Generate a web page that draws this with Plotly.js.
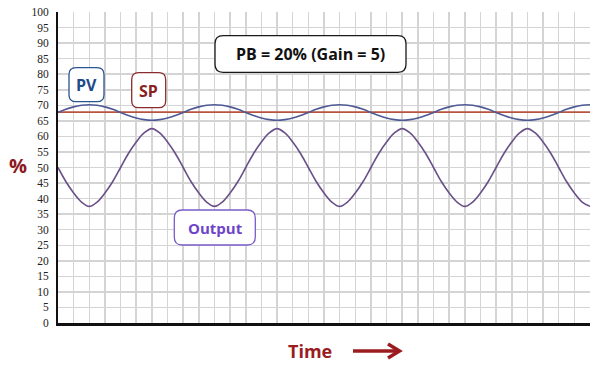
<!DOCTYPE html>
<html>
<head>
<meta charset="utf-8">
<script src="https://cdn.plot.ly/plotly-3.0.1.min.js"></script>
<style>html,body{margin:0;padding:0;background:#fff;}#chart{width:600px;height:372px;}</style>
</head>
<body>
<div id="chart"></div>
<script>
// Data (time in grid columns, values in %)
var time = [0,0.5,1,1.5,2,2.5,3,3.5,4,4.5,5,5.5,6,6.5,7,7.5,
            8,8.5,9,9.5,10,10.5,11,11.5,12,12.5,13,13.5,14,14.5,15,15.5,
            16,16.5,17,17.5,18,18.5,19,19.5,20,20.5,21,21.5,22,22.5,23,23.5,
            24,24.5,25,25.5,26,26.5,27,27.5,28,28.5,29,29.5,30,30.5,31,31.5,
            32,32.5,33,33.5,34];
var outputVals = [50,45.5,41.8,38.9,37.5,38.9,41.8,45.5,50,54.5,58.2,61.1,62.5,61.1,58.2,54.5,
                  50,45.5,41.8,38.9,37.5,38.9,41.8,45.5,50,54.5,58.2,61.1,62.5,61.1,58.2,54.5,
                  50,45.5,41.8,38.9,37.5,38.9,41.8,45.5,50,54.5,58.2,61.1,62.5,61.1,58.2,54.5,
                  50,45.5,41.8,38.9,37.5,38.9,41.8,45.5,50,54.5,58.2,61.1,62.5,61.1,58.2,54.5,
                  50,45.5,41.8,38.9,37.5];
var pvVals = [67.7,68.7,69.5,70,70.2,70,69.5,68.7,67.7,66.7,65.9,65.4,65.2,65.4,65.9,66.7,
              67.7,68.7,69.5,70,70.2,70,69.5,68.7,67.7,66.7,65.9,65.4,65.2,65.4,65.9,66.7,
              67.7,68.7,69.5,70,70.2,70,69.5,68.7,67.7,66.7,65.9,65.4,65.2,65.4,65.9,66.7,
              67.7,68.7,69.5,70,70.2,70,69.5,68.7,67.7,66.7,65.9,65.4,65.2,65.4,65.9,66.7,
              67.7,68.7,69.5,70,70.2];
var spTime = [0, 34];
var spVals = [67.8, 67.8];
var yTicks = [0,5,10,15,20,25,30,35,40,45,50,55,60,65,70,75,80,85,90,95,100];

var L = 58, R = 10, T = 12, B = 49, W = 600, H = 372;
var pw = W - L - R, ph = H - T - B;
function px(x){ return (x - L) / pw; }
function py(y){ return (H - B - y) / ph; }
function rrect(x0, y0, x1, y1, r){
  var a = px(x0), b = px(x1), c = py(y0), d = py(y1);
  var rx = r / pw, ry = r / ph;
  return 'M' + (a+rx) + ',' + c +
         ' L' + (b-rx) + ',' + c + ' Q' + b + ',' + c + ' ' + b + ',' + (c-ry) +
         ' L' + b + ',' + (d+ry) + ' Q' + b + ',' + d + ' ' + (b-rx) + ',' + d +
         ' L' + (a+rx) + ',' + d + ' Q' + a + ',' + d + ' ' + a + ',' + (d+ry) +
         ' L' + a + ',' + (c-ry) + ' Q' + a + ',' + c + ' ' + (a+rx) + ',' + c + ' Z';
}
function box(x0,y0,x1,y1,r,color){
  return {type:'path', xref:'paper', yref:'paper', path: rrect(x0,y0,x1,y1,r),
          line:{color:color, width:1.3}, fillcolor:'#ffffff', layer:'above'};
}
function label(x,y,text,color,size){
  return {xref:'paper', yref:'paper', x:px(x), y:py(y), xanchor:'center', yanchor:'middle',
          text:text, showarrow:false,
          font:{family:'Open Sans, sans-serif', size:size, color:color, weight:700}};
}

var traces = [
  {x: spTime, y: spVals, type:'scatter', mode:'lines', line:{color:'#b8533f', width:1.6}, hoverinfo:'skip'},
  {x: time, y: pvVals, type:'scatter', mode:'lines', line:{color:'#4f5a94', width:1.6, shape:'spline', smoothing:1}, hoverinfo:'skip'},
  {x: time, y: outputVals, type:'scatter', mode:'lines', line:{color:'#6a5088', width:1.6, shape:'spline', smoothing:1}, hoverinfo:'skip'}
];

var arrowColor = '#9a1c1f';
var layout = {
  width: W, height: H,
  margin: {l:L, r:R, t:T, b:B, pad:0},
  paper_bgcolor:'#ffffff', plot_bgcolor:'#ffffff',
  showlegend:false,
  xaxis: {range:[0,34], dtick:1, tick0:0, showgrid:true, gridcolor:'#d4d4d4', gridwidth:1.5,
          showticklabels:false, ticks:'', zeroline:false, showline:true, linecolor:'#111111', linewidth:2.5, fixedrange:true},
  yaxis: {range:[0,100], tickvals:yTicks, ticktext:yTicks.map(String), showgrid:true, gridcolor:'#d4d4d4', gridwidth:1.5,
          ticks:'', ticklabelstandoff:5, zeroline:false, showline:true, linecolor:'#111111', linewidth:2,
          tickfont:{family:'Liberation Serif, serif', size:11.5, color:'#222222'}, fixedrange:true},
  shapes: [
    box(69,67.7,104,101.7,7,'#2a5591'),
    box(131.7,72.7,165.7,107.7,7,'#8b2a2e'),
    box(215,35.7,406,72.3,8,'#1a1a1a'),
    box(174.3,210,255.3,245,8,'#7a5cc8'),
    {type:'line', xref:'paper', yref:'paper', x0:px(353), y0:py(351), x1:px(398), y1:py(351),
     line:{color:arrowColor, width:3.5}},
    {type:'path', xref:'paper', yref:'paper',
     path:'M'+px(388)+','+py(344)+' L'+px(399.5)+','+py(351)+' L'+px(388)+','+py(358),
     line:{color:arrowColor, width:3.5}, fillcolor:'rgba(0,0,0,0)'}
  ],
  annotations: [
    label(86.5,85,'PV','#1f4a8c',16),
    label(148.7,90.5,'SP','#8b1f24',16),
    label(310.5,54.5,'PB = 20% (Gain = 5)','#111111',16),
    label(215,228,'Output','#6e45c9',15),
    label(18,165,'%','#8b1a1f',20),
    label(310,351,'Time','#9a1c1f',18)
  ]
};

Plotly.newPlot('chart', traces, layout, {displayModeBar:false, staticPlot:true});
</script>
</body>
</html>
